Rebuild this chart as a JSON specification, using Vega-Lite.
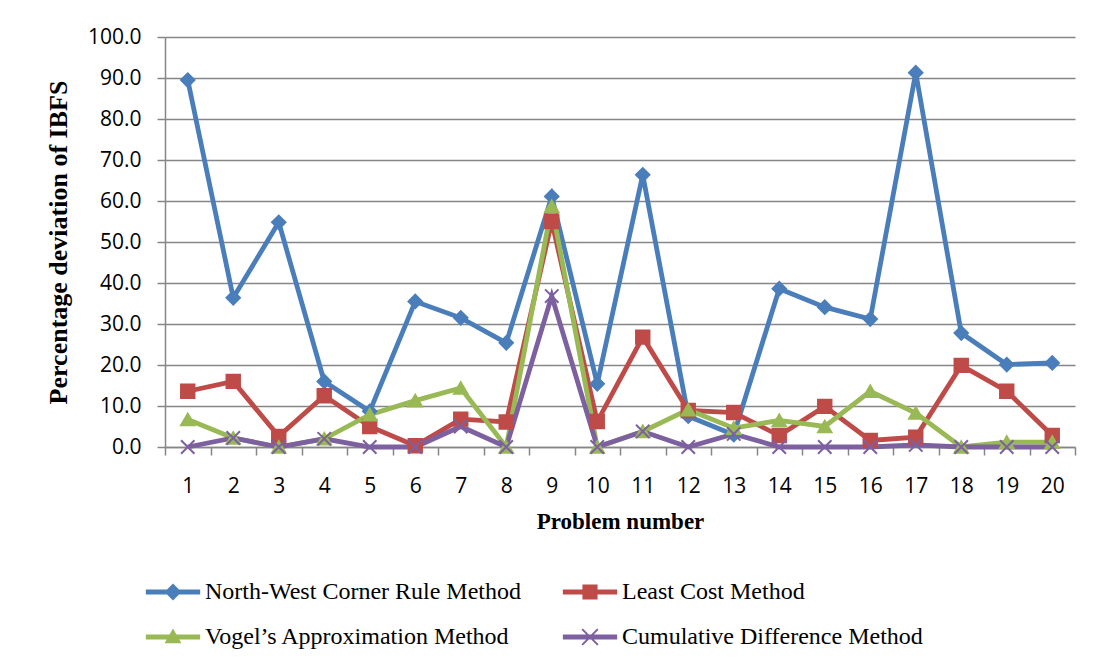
{
  "$schema": "https://vega.github.io/schema/vega-lite/v6.json",
  "width": 910,
  "height": 410,
  "autosize": {"type": "none"},
  "padding": {"left": 165, "top": 37, "right": 24, "bottom": 216},
  "background": "white",
  "config": {"view": {"stroke": null}},
  "data": {
    "values": [
      {"problem": 1, "method": "North-West Corner Rule Method", "value": 89.5},
      {"problem": 2, "method": "North-West Corner Rule Method", "value": 36.4},
      {"problem": 3, "method": "North-West Corner Rule Method", "value": 54.8},
      {"problem": 4, "method": "North-West Corner Rule Method", "value": 16.0},
      {"problem": 5, "method": "North-West Corner Rule Method", "value": 8.7},
      {"problem": 6, "method": "North-West Corner Rule Method", "value": 35.5},
      {"problem": 7, "method": "North-West Corner Rule Method", "value": 31.5},
      {"problem": 8, "method": "North-West Corner Rule Method", "value": 25.4},
      {"problem": 9, "method": "North-West Corner Rule Method", "value": 61.1},
      {"problem": 10, "method": "North-West Corner Rule Method", "value": 15.4},
      {"problem": 11, "method": "North-West Corner Rule Method", "value": 66.4},
      {"problem": 12, "method": "North-West Corner Rule Method", "value": 7.5},
      {"problem": 13, "method": "North-West Corner Rule Method", "value": 3.0},
      {"problem": 14, "method": "North-West Corner Rule Method", "value": 38.6},
      {"problem": 15, "method": "North-West Corner Rule Method", "value": 34.1},
      {"problem": 16, "method": "North-West Corner Rule Method", "value": 31.2},
      {"problem": 17, "method": "North-West Corner Rule Method", "value": 91.3},
      {"problem": 18, "method": "North-West Corner Rule Method", "value": 27.8},
      {"problem": 19, "method": "North-West Corner Rule Method", "value": 20.1},
      {"problem": 20, "method": "North-West Corner Rule Method", "value": 20.5},
      {"problem": 1, "method": "Least Cost Method", "value": 13.6},
      {"problem": 2, "method": "Least Cost Method", "value": 16.0},
      {"problem": 3, "method": "Least Cost Method", "value": 2.6},
      {"problem": 4, "method": "Least Cost Method", "value": 12.5},
      {"problem": 5, "method": "Least Cost Method", "value": 5.0},
      {"problem": 6, "method": "Least Cost Method", "value": 0.3},
      {"problem": 7, "method": "Least Cost Method", "value": 6.8},
      {"problem": 8, "method": "Least Cost Method", "value": 6.1},
      {"problem": 9, "method": "Least Cost Method", "value": 55.0},
      {"problem": 10, "method": "Least Cost Method", "value": 6.2},
      {"problem": 11, "method": "Least Cost Method", "value": 26.8},
      {"problem": 12, "method": "Least Cost Method", "value": 8.9},
      {"problem": 13, "method": "Least Cost Method", "value": 8.4},
      {"problem": 14, "method": "Least Cost Method", "value": 2.8},
      {"problem": 15, "method": "Least Cost Method", "value": 9.9},
      {"problem": 16, "method": "Least Cost Method", "value": 1.6},
      {"problem": 17, "method": "Least Cost Method", "value": 2.4},
      {"problem": 18, "method": "Least Cost Method", "value": 19.9},
      {"problem": 19, "method": "Least Cost Method", "value": 13.6},
      {"problem": 20, "method": "Least Cost Method", "value": 2.8},
      {"problem": 1, "method": "Vogel’s Approximation Method", "value": 6.7},
      {"problem": 2, "method": "Vogel’s Approximation Method", "value": 2.2},
      {"problem": 3, "method": "Vogel’s Approximation Method", "value": 0.0},
      {"problem": 4, "method": "Vogel’s Approximation Method", "value": 2.0},
      {"problem": 5, "method": "Vogel’s Approximation Method", "value": 7.9},
      {"problem": 6, "method": "Vogel’s Approximation Method", "value": 11.3},
      {"problem": 7, "method": "Vogel’s Approximation Method", "value": 14.4},
      {"problem": 8, "method": "Vogel’s Approximation Method", "value": 0.0},
      {"problem": 9, "method": "Vogel’s Approximation Method", "value": 58.7},
      {"problem": 10, "method": "Vogel’s Approximation Method", "value": 0.0},
      {"problem": 11, "method": "Vogel’s Approximation Method", "value": 3.8},
      {"problem": 12, "method": "Vogel’s Approximation Method", "value": 9.1},
      {"problem": 13, "method": "Vogel’s Approximation Method", "value": 4.6},
      {"problem": 14, "method": "Vogel’s Approximation Method", "value": 6.5},
      {"problem": 15, "method": "Vogel’s Approximation Method", "value": 5.0},
      {"problem": 16, "method": "Vogel’s Approximation Method", "value": 13.6},
      {"problem": 17, "method": "Vogel’s Approximation Method", "value": 8.3},
      {"problem": 18, "method": "Vogel’s Approximation Method", "value": 0.0},
      {"problem": 19, "method": "Vogel’s Approximation Method", "value": 1.2},
      {"problem": 20, "method": "Vogel’s Approximation Method", "value": 1.2},
      {"problem": 1, "method": "Cumulative Difference Method", "value": 0.0},
      {"problem": 2, "method": "Cumulative Difference Method", "value": 2.2},
      {"problem": 3, "method": "Cumulative Difference Method", "value": 0.0},
      {"problem": 4, "method": "Cumulative Difference Method", "value": 2.0},
      {"problem": 5, "method": "Cumulative Difference Method", "value": 0.0},
      {"problem": 6, "method": "Cumulative Difference Method", "value": 0.0},
      {"problem": 7, "method": "Cumulative Difference Method", "value": 5.0},
      {"problem": 8, "method": "Cumulative Difference Method", "value": 0.0},
      {"problem": 9, "method": "Cumulative Difference Method", "value": 36.8},
      {"problem": 10, "method": "Cumulative Difference Method", "value": 0.0},
      {"problem": 11, "method": "Cumulative Difference Method", "value": 3.8},
      {"problem": 12, "method": "Cumulative Difference Method", "value": 0.0},
      {"problem": 13, "method": "Cumulative Difference Method", "value": 3.2},
      {"problem": 14, "method": "Cumulative Difference Method", "value": 0.0},
      {"problem": 15, "method": "Cumulative Difference Method", "value": 0.0},
      {"problem": 16, "method": "Cumulative Difference Method", "value": 0.0},
      {"problem": 17, "method": "Cumulative Difference Method", "value": 0.5},
      {"problem": 18, "method": "Cumulative Difference Method", "value": 0.0},
      {"problem": 19, "method": "Cumulative Difference Method", "value": 0.0},
      {"problem": 20, "method": "Cumulative Difference Method", "value": 0.0}
    ]
  },
  "encoding": {
    "x": {
      "field": "problem",
      "type": "ordinal",
      "bandPosition": 0.5,
      "scale": {"type": "band", "paddingInner": 0, "paddingOuter": 0},
      "axis": {
        "title": "Problem number",
        "labelAngle": 0,
        "tickBand": "extent",
        "tickSize": 8,
        "tickColor": "#868686",
        "tickWidth": 1.5,
        "domainColor": "#868686",
        "domainWidth": 1.5,
        "grid": false,
        "labelFont": "Open Sans",
        "labelFontSize": 21,
        "labelColor": "black",
        "labelPadding": 20,
        "titleFont": "Liberation Serif",
        "titleFontSize": 23,
        "titleFontWeight": "bold",
        "titleColor": "black",
        "titleX": 455,
        "titleY": 63
      }
    },
    "y": {
      "field": "value",
      "type": "quantitative",
      "scale": {"domain": [0, 100], "nice": false},
      "axis": {
        "title": "Percentage deviation of IBFS",
        "values": [0, 10, 20, 30, 40, 50, 60, 70, 80, 90, 100],
        "format": ".1f",
        "grid": true,
        "gridColor": "#868686",
        "gridWidth": 1.5,
        "domainColor": "#868686",
        "domainWidth": 1.5,
        "tickColor": "#868686",
        "tickWidth": 1.5,
        "tickSize": 8,
        "labelFont": "Open Sans",
        "labelFontSize": 21,
        "labelColor": "black",
        "labelPadding": 16,
        "titleFont": "Liberation Serif",
        "titleFontSize": 26,
        "titleFontWeight": "bold",
        "titleColor": "black",
        "titleX": -94,
        "titleY": 205
      }
    }
  },
  "layer": [
    {
      "mark": {"type": "line", "strokeWidth": 4.8},
      "encoding": {
        "color": {
          "field": "method",
          "type": "nominal",
          "scale": {
            "domain": ["North-West Corner Rule Method", "Least Cost Method", "Vogel’s Approximation Method", "Cumulative Difference Method"],
            "range": ["#4A7EBB", "#BE4B48", "#98B954", "#7D60A0"]
          },
          "legend": null
        }
      }
    },
    {
      "mark": {"type": "point", "size": 180, "strokeWidth": 2, "opacity": 1},
      "encoding": {
        "fill": {
          "field": "method",
          "type": "nominal",
          "scale": {
            "domain": ["North-West Corner Rule Method", "Least Cost Method", "Vogel’s Approximation Method", "Cumulative Difference Method"],
            "range": ["#4A7EBB", "#BE4B48", "#98B954", "#7D60A0"]
          },
          "legend": null
        },
        "stroke": {
          "field": "method",
          "type": "nominal",
          "scale": {
            "domain": ["North-West Corner Rule Method", "Least Cost Method", "Vogel’s Approximation Method", "Cumulative Difference Method"],
            "range": ["#4A7EBB", "#BE4B48", "#98B954", "#7D60A0"]
          },
          "legend": null
        },
        "shape": {
          "field": "method",
          "type": "nominal",
          "scale": {
            "domain": ["North-West Corner Rule Method", "Least Cost Method", "Vogel’s Approximation Method", "Cumulative Difference Method"],
            "range": ["diamond", "square", "triangle-up", "M-1,-1L1,1M-1,1L1,-1"]
          },
          "legend": null
        }
      }
    },
    {
      "mark": {"type": "point", "filled": true, "opacity": 0, "size": 10},
      "encoding": {
        "color": {
          "field": "method",
          "type": "nominal",
          "scale": {
            "domain": ["North-West Corner Rule Method", "Least Cost Method", "Vogel’s Approximation Method", "Cumulative Difference Method"],
            "range": ["#4A7EBB", "#BE4B48", "#98B954", "#7D60A0"]
          },
          "legend": {
            "title": null,
            "orient": "none",
            "direction": "horizontal",
            "legendX": -20,
            "legendY": 527,
            "columns": 2,
            "padding": 0,
            "symbolSize": 3136,
            "symbolStrokeWidth": 0,
            "symbolOpacity": 1,
            "labelFont": "Liberation Serif",
            "labelFontSize": 24,
            "labelColor": "black",
            "labelOffset": 4,
            "labelLimit": 800,
            "columnPadding": 40,
            "rowPadding": 5
          }
        },
        "shape": {
          "field": "method",
          "type": "nominal",
          "scale": {
            "domain": ["North-West Corner Rule Method", "Least Cost Method", "Vogel’s Approximation Method", "Cumulative Difference Method"],
            "range": [
              "M-0.97,-0.09H0.97V0.09H-0.97Z M0,-0.3L0.3,0L0,0.3L-0.3,0Z",
              "M-0.97,-0.09H0.97V0.09H-0.97Z M-0.27,-0.27H0.27V0.27H-0.27Z",
              "M-0.97,-0.09H0.97V0.09H-0.97Z M0,-0.3L0.3,0.22H-0.3Z",
              "M-0.97,-0.09H0.97V0.09H-0.97Z M-0.305,-0.255L-0.255,-0.305L0.305,0.255L0.255,0.305Z M0.305,-0.255L-0.255,0.305L-0.305,0.255L0.255,-0.305Z"
            ]
          },
          "legend": {
            "title": null,
            "orient": "none",
            "direction": "horizontal",
            "legendX": -20,
            "legendY": 527,
            "columns": 2,
            "padding": 0,
            "symbolSize": 3136,
            "symbolStrokeWidth": 0,
            "symbolOpacity": 1,
            "labelFont": "Liberation Serif",
            "labelFontSize": 24,
            "labelColor": "black",
            "labelOffset": 4,
            "labelLimit": 800,
            "columnPadding": 40,
            "rowPadding": 5
          }
        }
      }
    }
  ],
  "resolve": {"scale": {"color": "independent", "shape": "independent"}}
}
